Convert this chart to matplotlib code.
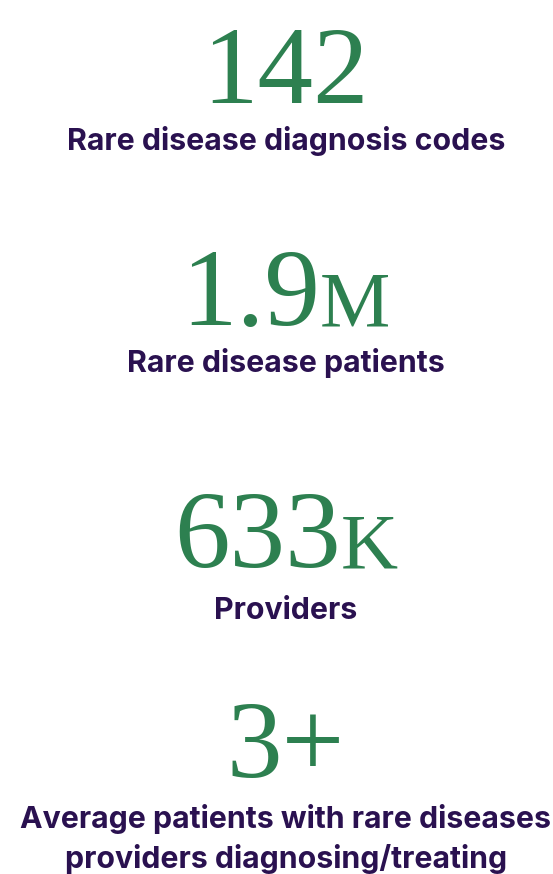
import matplotlib
matplotlib.use("Agg")
import matplotlib.pyplot as plt

# stat values: main figure, small-caps suffix, label lines
numbers = ["142", "1.9", "633", "3+"]
suffixes = ["", "M", "K", ""]
labels = [
    ["Rare disease diagnosis codes"],
    ["Rare disease patients"],
    ["Providers"],
    ["Average patients with rare diseases", "providers diagnosing/treating"],
]

GREEN = "#2d8050"
PURPLE = "#2a1150"
W, H = 553, 874
CX = 286  # content is centred a little right of the middle

num_baselines = [103, 325, 567, 777]
label_baselines = [[150], [372], [619], [828, 868]]

fig = plt.figure(figsize=(W / 100, H / 100), dpi=100)
fig.patch.set_facecolor("white")
renderer = fig.canvas.get_renderer()


def fy(py):
    return 1 - py / H


for num, suf, base in zip(numbers, suffixes, num_baselines):
    t1 = fig.text(0, fy(base), num, fontsize=80, family="Liberation Serif",
                  color=GREEN, ha="left", va="baseline")
    w1 = t1.get_window_extent(renderer).width
    w2 = 0
    t2 = None
    if suf:
        t2 = fig.text(0, fy(base), suf, fontsize=57, family="Liberation Serif",
                      color=GREEN, ha="left", va="baseline")
        w2 = t2.get_window_extent(renderer).width
    x0 = CX - (w1 + w2) / 2
    t1.set_x(x0 / W)
    if t2 is not None:
        t2.set_x((x0 + w1) / W)

for lines, bases in zip(labels, label_baselines):
    for line, b in zip(lines, bases):
        fig.text(CX / W, fy(b), line, fontsize=21.8, family="Inter", weight="bold",
                 color=PURPLE, ha="center", va="baseline")

fig.savefig("out.png", dpi=100, facecolor="white")
